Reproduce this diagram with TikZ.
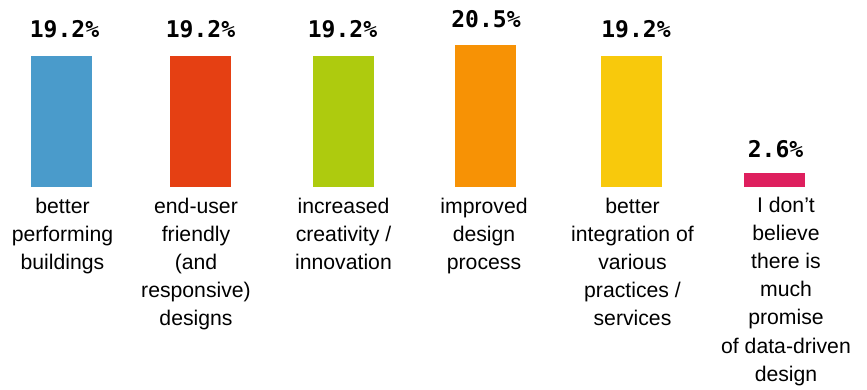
\documentclass[tikz,border=0pt]{standalone}
\usepackage{fontspec}
\setmainfont{Liberation Sans}
\newfontfamily\pctfont{DejaVu Sans Mono}
\definecolor{cblue}{HTML}{4A9BCB}
\definecolor{cred}{HTML}{E54013}
\definecolor{cgreen}{HTML}{AECB0E}
\definecolor{corange}{HTML}{F79205}
\definecolor{cyellow}{HTML}{F8C90C}
\definecolor{cpink}{HTML}{DE1F5E}
\begin{document}
\begin{tikzpicture}[x=1pt,y=-1pt,
  barbox/.style={fill=#1,draw=none,minimum width=61pt,inner sep=0pt,anchor=south},
  pct/.style={font=\pctfont\bfseries\fontsize{23}{23}\selectfont,anchor=base,inner sep=0pt},
  cat/.style={font=\fontsize{21.2}{28.2}\selectfont,align=center,anchor=base,inner sep=0pt}]
\useasboundingbox (0,0) rectangle (867,390);
\node[barbox=cblue,minimum height=131pt] (b1) at (61.5,187) {};
\node[barbox=cred,minimum height=131pt] (b2) at (200.5,187) {};
\node[barbox=cgreen,minimum height=131pt] (b3) at (343.5,187) {};
\node[barbox=corange,minimum height=142pt] (b4) at (485.5,187) {};
\node[barbox=cyellow,minimum height=131pt] (b5) at (631.5,187) {};
\node[barbox=cpink,minimum height=14pt] (b6) at (774.5,187) {};
\node[pct] (p1) at (64.5,38) {19.2\%};
\node[pct] (p2) at (200.5,38) {19.2\%};
\node[pct] (p3) at (342.5,38) {19.2\%};
\node[pct] (p4) at (486,28) {20.5\%};
\node[pct] (p5) at (636,38) {19.2\%};
\node[pct] (p6) at (775.5,158) {2.6\%};
\node[cat] (c1) at (62.5,269.4) {better\\performing\\buildings};
\node[cat] (c2) at (196,325.8) {end-user\\friendly\\(and\\responsive)\\designs};
\node[cat] (c3) at (343.5,269.4) {increased\\creativity /\\innovation};
\node[cat] (c4) at (484,269.4) {improved\\design\\process};
\node[cat] (c5) at (632.5,325.8) {better\\integration of\\various\\practices /\\services};
\node[cat] (c6) at (786,381.2) {I don’t\\believe\\there is\\much\\promise\\of data-driven\\design};
\end{tikzpicture}
\end{document}
